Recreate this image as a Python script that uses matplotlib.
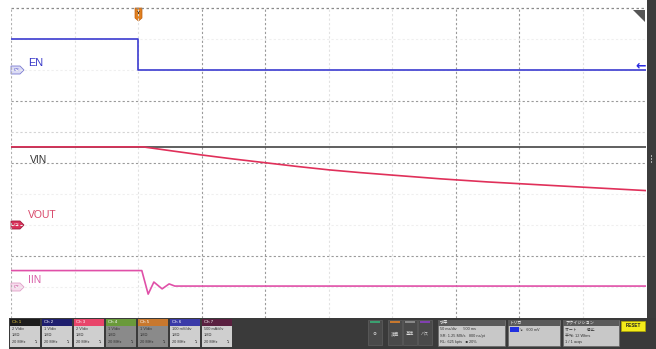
import matplotlib
matplotlib.use("Agg")
import matplotlib.pyplot as plt
from matplotlib.patches import Rectangle, Polygon

plt.rcParams['font.family'] = ['Liberation Sans', 'Noto Sans CJK JP', 'DejaVu Sans']

# waveform data, in screen divisions (x: 0..10, y: 0..10 from bottom)
en_t = [0.0, 2.0, 2.0, 10.0]
en_v = [9.0, 9.0, 8.0, 8.0]

vin_t = [0.0, 10.0]
vin_v = [5.52, 5.52]

vout_t = [0.0, 2.08, 2.5, 3.0, 3.5, 4.0, 4.5, 5.0, 5.5, 6.0, 6.76, 7.5, 8.65, 10.0]
vout_v = [5.52, 5.52, 5.40, 5.26, 5.13, 5.01, 4.89, 4.78, 4.69, 4.61, 4.49, 4.39, 4.26, 4.11]

iin_t = [0.0, 2.06, 2.16, 2.25, 2.38, 2.49, 2.58, 10.0]
iin_v = [1.53, 1.53, 0.77, 1.16, 0.94, 1.10, 1.03, 1.03]

channels = ["Ch 1", "Ch 2", "Ch 3", "Ch 4", "Ch 5", "Ch 6", "Ch 7"]
ch_scale = ["2 V/div", "1 V/div", "2 V/div", "1 V/div", "1 V/div", "100 mV/div", "500 mA/div"]
ch_colors = ["#1c1c1c", "#1e1e6e", "#e8456a", "#6a9a3a", "#c8782e", "#3a3aa8", "#5a2040"]
ch_body = ["#cfcfcf", "#cfcfcf", "#cfcfcf", "#8a8a8a", "#8a8a8a", "#cfcfcf", "#cfcfcf"]

W, H = 656, 349
fig = plt.figure(figsize=(W / 100, H / 100), dpi=100)
fig.patch.set_facecolor("white")

# full-figure overlay in pixel coords for the scope chrome
bg = fig.add_axes([0, 0, 1, 1])
bg.set_xlim(0, W)
bg.set_ylim(H, 0)
bg.axis("off")

# main screen
ax = fig.add_axes([11 / W, 31 / H, 635 / W, 310 / H])
ax.set_xlim(0, 10)
ax.set_ylim(0, 10)
ax.set_xticks([])
ax.set_yticks([])
for s in ax.spines.values():
    s.set_visible(False)
ax.patch.set_alpha(0)

# graticule
for x in range(1, 10):
    dark = x in (3, 4, 7, 8)
    ax.axvline(x, color="#9a9a9a" if dark else "#e2e2e2", lw=0.8, ls=(0, (2, 2)), zorder=0)
for y in range(1, 10):
    dark = y in (7, 5, 2)
    ax.axhline(y, color="#9a9a9a" if dark else ("#d4d4d4" if y == 6 else "#efefef"),
               lw=0.8, ls=(0, (2, 2)), zorder=0)
ax.axhline(10, color="#8a8a8a", lw=0.9, ls=(0, (2, 2)), zorder=0, clip_on=False)
ax.axvline(0, color="#b0b0b0", lw=0.8, ls=(0, (2, 2)), zorder=0)

# traces
ax.plot(en_t, en_v, color="#3b3bd0", lw=1.2, zorder=3)
ax.plot(vin_t, vin_v, color="#444444", lw=1.2, zorder=2)
ax.plot(vout_t, vout_v, color="#e0305a", lw=1.2, zorder=3)
ax.plot(iin_t, iin_v, color="#e050a8", lw=1.2, zorder=3)

# labels
bg.text(28, 66.5, "EN", color="#3535c8", fontsize=7.8, va="baseline")
bg.text(30, 163, "VIN", color="#333333", fontsize=7.5, va="baseline")
bg.text(28, 218, "VOUT", color="#d8486a", fontsize=7.5, va="baseline")
bg.text(28, 283, "IIN", color="#d860a8", fontsize=7.5, va="baseline")

# channel tags at left edge
def tag(y, face, edge, txt_color, txt):
    bg.add_patch(Polygon([(11, y - 4), (20, y - 4), (24, y), (20, y + 4), (11, y + 4)],
                         closed=True, facecolor=face, edgecolor=edge, lw=0.6, zorder=5))
    bg.text(17, y, txt, color=txt_color, fontsize=3.2, ha="center", va="center", zorder=6)

tag(70, "#dcdcf6", "#7a7ad0", "#4040c0", "C2")
tag(225, "#d83058", "#a01c3c", "white", "C3")
tag(287, "#f6dcec", "#e0a0c8", "#c04090", "C7")

# trigger level arrow at right edge
bg.text(641, 66, "\u2190", color="#2a2ae0", fontsize=9, ha="center", va="center",
        fontweight="bold", family="DejaVu Sans")

# trigger position marker
bg.add_patch(Polygon([(135, 8), (142, 8), (142, 18), (138.5, 21), (135, 18)],
                     closed=True, facecolor="#e08020", edgecolor="#c06010", lw=0.5, zorder=5))
bg.text(138.5, 13.5, "T", color="#222222", fontsize=3.5, ha="center", va="center",
        fontweight="bold", zorder=6)

# top-right corner badge
bg.add_patch(Polygon([(633, 10), (645, 10), (645, 22)], closed=True,
                     facecolor="#555555", edgecolor="none"))

# right side panel
bg.add_patch(Rectangle((647, 0), 9, 318, facecolor="#3c3c3c", edgecolor="none"))
for yy in (155, 158, 161):
    bg.add_patch(Rectangle((650.5, yy), 1.5, 1.5, facecolor="#aaaaaa", edgecolor="none"))

# bottom status bar
bg.add_patch(Rectangle((9, 318), W - 9, H - 318, facecolor="#3a3a3a", edgecolor="none"))
x0 = 10
for i, name in enumerate(channels):
    bx = x0 + i * 32
    bg.add_patch(Rectangle((bx, 319), 29.5, 6.5, facecolor=ch_colors[i], edgecolor="none"))
    bg.add_patch(Rectangle((bx, 325.5), 29.5, 21.5, facecolor=ch_body[i], edgecolor="none"))
    bg.text(bx + 2, 322.3, name, color="#f0d040" if i == 0 else "white", fontsize=3.2, va="center")
    bg.text(bx + 1.5, 329, ch_scale[i], color="#333333", fontsize=2.8, va="center")
    bg.text(bx + 1.5, 335, "1M\u03a9", color="#333333", fontsize=2.8, va="center")
    bg.text(bx + 1.5, 342, "20 MHz", color="#333333", fontsize=2.8, va="center")
    bg.text(bx + 26, 342, "\u21b4", color="#333333", fontsize=3, ha="center", va="center")

# small buttons
btn_x = [368, 388, 403, 418]
btn_c = ["#3aa070", "#c8782e", "#888888", "#8040b0"]
btn_t = ["\u2295", "演算", "基準", "バス"]
for bx, bc, bt in zip(btn_x, btn_c, btn_t):
    bg.add_patch(Rectangle((bx, 320), 13.5, 25, facecolor="#4a4a4a", edgecolor="#606060", lw=0.5))
    bg.add_patch(Rectangle((bx + 1.5, 321), 10.5, 1.5, facecolor=bc, edgecolor="none"))
    bg.text(bx + 6.75, 334, bt, color="#dddddd", fontsize=3, ha="center", va="center")

# horizontal / trigger / acquisition badges
badges = [
    (438, 67, "水平", ["50 ms/div      500 ms", "SR: 1.25 MS/s   800 ns/pt", "RL: 625 kpts   \u25a0 20%"]),
    (508, 52, "トリガ", ["        \u2198   600 mV", "", ""]),
    (563, 56, "アクイジション", ["オート         停止", "平均: 12 Wfms", "1 / 1 acqs"]),
]
for bx, bw, head, lines in badges:
    bg.add_patch(Rectangle((bx, 320), bw, 26, facecolor="#c8c8c8", edgecolor="#666666", lw=0.5))
    bg.add_patch(Rectangle((bx, 320), bw, 6, facecolor="#5a5a5a", edgecolor="none"))
    bg.text(bx + 2, 323, head, color="white", fontsize=3, va="center")
    for j, ln in enumerate(lines):
        bg.text(bx + 2, 329.5 + j * 6, ln, color="#333333", fontsize=2.8, va="center")
bg.add_patch(Rectangle((510, 326.5), 9, 5, facecolor="#2030e0", edgecolor="none"))

# yellow button
bg.add_patch(Rectangle((621, 321), 24, 9.5, facecolor="#f4ec1a", edgecolor="#b0a800", lw=0.5))
bg.text(633, 325.8, "RESET", color="#222222", fontsize=3.3, ha="center", va="center",
        fontweight="bold")

fig.savefig("out.png", dpi=100)
